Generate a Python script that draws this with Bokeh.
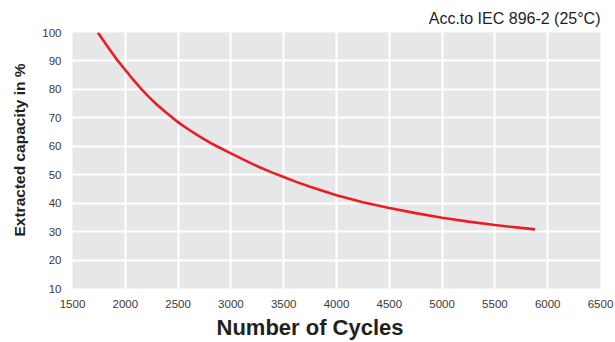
from bokeh.plotting import figure
from bokeh.models import Range1d, FixedTicker, Title
from bokeh.embed import file_html
from bokeh.resources import INLINE

cycles = [1740, 1830, 1930, 2000, 2075, 2150, 2225, 2300, 2375, 2450, 2525, 2600,
          2675, 2750, 2825, 2900, 3000, 3125, 3250, 3375, 3500, 3625, 3750, 3875,
          4000, 4250, 4500, 4750, 5000, 5250, 5500, 5750, 5880]
capacity = [100.0, 95.2, 90.0, 86.8, 83.4, 80.2, 77.3, 74.6, 72.2, 69.9, 67.8, 65.9,
            64.1, 62.4, 60.8, 59.4, 57.5, 55.2, 53.0, 51.0, 49.2, 47.4, 45.8, 44.3,
            42.8, 40.3, 38.3, 36.5, 34.9, 33.5, 32.3, 31.3, 30.8]
x_ticks = [1500, 2000, 2500, 3000, 3500, 4000, 4500, 5000, 5500, 6000, 6500]
y_ticks = [10, 20, 30, 40, 50, 60, 70, 80, 90, 100]
title_text = "Acc.to IEC 896-2 (25°C)"
x_title = "Number of Cycles"
y_title = "Extracted capacity in %"

FONT = "Liberation Sans"

p = figure(width=615, height=342, output_backend="svg", toolbar_location=None,
           x_range=Range1d(1500, 6500), y_range=Range1d(10, 100),
           min_border_left=71, min_border_right=15, min_border_top=32,
           min_border_bottom=53)

p.background_fill_color = "#e6e7e8"
p.border_fill_color = "white"
p.outline_line_color = None

p.title.text = title_text
p.title.align = "right"
p.title.text_font = FONT
p.title.text_font_size = "16px"
p.title.text_font_style = "normal"
p.title.text_color = "#231f20"
p.title.standoff = 11

for ax in (p.xaxis[0], p.yaxis[0]):
    ax.axis_line_color = None
    ax.major_tick_line_color = None
    ax.minor_tick_line_color = None
    ax.major_tick_out = 0
    ax.major_tick_in = 0
    ax.major_label_text_font = FONT
    ax.major_label_text_font_size = "11.5px"
    ax.major_label_text_color = "#3a3a3a"

p.xaxis.ticker = FixedTicker(ticks=x_ticks)
p.yaxis.ticker = FixedTicker(ticks=y_ticks)
p.xaxis.major_label_standoff = 11
p.yaxis.major_label_standoff = 11

p.grid.grid_line_color = "white"
p.grid.grid_line_width = 2

p.line(cycles, capacity, line_color="#ed1c24", line_width=2.6)

xt = Title(text=x_title, align="left", offset=144, text_font=FONT,
           text_font_size="22px", text_font_style="bold", text_color="#231f20",
           standoff=5)
yt = Title(text=y_title, align="left", offset=52, text_font=FONT,
           text_font_size="15.5px", text_font_style="bold", text_color="#231f20",
           vertical_align="top", standoff=20)
p.add_layout(xt, "below")
p.add_layout(yt, "left")

open("out.html", "w").write(file_html(p, INLINE))
